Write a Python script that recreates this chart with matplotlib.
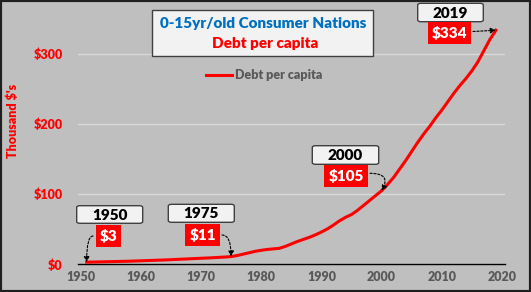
import matplotlib.pyplot as plt
from matplotlib.patches import FancyBboxPatch, Rectangle

plt.rcParams['font.family'] = ['Lato', 'DejaVu Sans']
plt.rcParams['font.weight'] = 'heavy'

# debt per capita, thousand $ (0-15yr/old consumer nations)
years = list(range(1951, 2020))
debt = [3.0, 3.2, 3.4, 3.6, 3.8, 4.0, 4.2, 4.4, 4.7, 5.0,
        5.3, 5.6, 5.9, 6.2, 6.6, 7.0, 7.4, 7.8, 8.2, 8.6,
        9.0, 9.4, 9.9, 10.4, 11.0, 12.5, 14.5, 16.5, 18.5, 20.0,
        21.2, 22.0, 22.8, 25.5, 29.0, 32.5, 35.5, 38.5, 42.0, 46.0,
        50.5, 56.0, 62.0, 67.0, 71.0, 77.0, 84.0, 91.0, 98.0, 105.0,
        114.0, 124.0, 136.0, 148.0, 161.0, 174.0, 186.0, 197.0, 209.0, 220.0,
        232.0, 244.0, 255.0, 265.0, 276.0, 289.0, 305.0, 321.0, 334.0]

xticks = [1950, 1960, 1970, 1980, 1990, 2000, 2010, 2020]
yticks = [0, 100, 200, 300]
ytick_labels = ['$0', '$100', '$200', '$300']

callout_years = [1951, 1975, 2000, 2019]
callout_tags = ['1950', '1975', '2000', '2019']
callout_values = ['$3', '$11', '$105', '$334']

W, H = 531, 292
BG = '#BFBFBF'


def px(x, y):
    return x / W, 1 - y / H


fig = plt.figure(figsize=(W / 100, H / 100), dpi=100, facecolor=BG)
fig.patches.append(Rectangle((0, 0), 1, 1, transform=fig.transFigure,
                             facecolor='none', edgecolor='#202020', lw=3))

ax_l, ax_r, ax_t, ax_b = 77.9, 505, 12, 264.3
ax = fig.add_axes([ax_l / W, 1 - ax_b / H, (ax_r - ax_l) / W, (ax_b - ax_t) / H])
ax.set_facecolor(BG)
ax.set_xlim(1949.55, 2020.5)
ax.set_ylim(0, 360)

for s in ['top', 'right', 'left']:
    ax.spines[s].set_visible(False)
ax.spines['bottom'].set_color('black')
ax.spines['bottom'].set_linewidth(1)
ax.spines['bottom'].set_zorder(3)

ax.set_yticks(yticks)
ax.set_yticklabels(ytick_labels)
ax.set_xticks(xticks)
ax.tick_params(axis='y', length=0, pad=11, labelsize=9, labelcolor='#FF0000')
ax.tick_params(axis='x', length=0, pad=5, labelsize=9, labelcolor='#595959')
ax.grid(axis='y', color='#D9D9D9', lw=1)
ax.set_axisbelow(True)

ax.plot(years, debt, color='#FF0000', lw=2.2, label='Debt per capita', zorder=4)

leg = ax.legend(loc='center', bbox_to_anchor=(0.436, 0.75), frameon=False,
                handlelength=2.1, handletextpad=0.2, fontsize=9)
for t in leg.get_texts():
    t.set_color('#595959')

fig.text(*px(13, 121), "Thousand $'s", color='#FF0000', fontsize=9,
         rotation=90, ha='center', va='center')

# title box
fig.patches.append(FancyBboxPatch(px(152, 56), 221 / W, 46 / H, transform=fig.transFigure,
                                  boxstyle='square,pad=0', facecolor='#F2F2F2',
                                  edgecolor='#404040', lw=1))
fig.text(*px(263, 23), '0-15yr/old Consumer Nations', color='#0070C0', fontsize=11,
         ha='center', va='center')
fig.text(*px(265, 44), 'Debt per capita', color='#FF0000', fontsize=11,
         ha='center', va='center')

# callouts: tag box, value box, arrow start, connection style
tag_boxes = [(76.7, 205.7, 142.7, 223.3), (168.3, 204.3, 234.3, 222.3),
             (312.3, 145.7, 378.7, 164.3), (417.7, 3.3, 483.3, 21.7)]
val_pos = [(108.8, 235.7), (202.5, 235), (346, 175.8), (449.8, 32.8)]
arrow_start = [(93, 236), (222, 235), (370, 173.3), (473, 31.5)]
conn = ['angle3,angleA=180,angleB=90', 'angle3,angleA=0,angleB=90',
        'angle3,angleA=0,angleB=60', 'arc3,rad=0']

for i in range(len(callout_years)):
    x0, y0, x1, y1 = tag_boxes[i]
    fig.patches.append(FancyBboxPatch(px(x0, y1), (x1 - x0) / W, (y1 - y0) / H,
                                      transform=fig.transFigure,
                                      boxstyle='round,pad=0,rounding_size=0.006',
                                      facecolor='#F2F2F2', edgecolor='#404040', lw=1))
    fig.text(*px((x0 + x1) / 2, (y0 + y1) / 2 + 0.5), callout_tags[i], color='black',
             fontsize=11, ha='center', va='center')
    fig.text(*px(*val_pos[i]), callout_values[i], color='white', fontsize=11,
             ha='center', va='center',
             bbox=dict(boxstyle='square,pad=0.25', facecolor='#FF0000', edgecolor='none'))
    yr = callout_years[i]
    ax.annotate('', xy=(yr, debt[years.index(yr)]), xycoords='data',
                xytext=px(*arrow_start[i]), textcoords='figure fraction',
                arrowprops=dict(arrowstyle='-|>', color='black', lw=0.8,
                                linestyle=(0, (2, 1.5)), mutation_scale=8,
                                shrinkA=0, shrinkB=0, connectionstyle=conn[i]),
                zorder=5)

fig.savefig('out.png', dpi=100, facecolor=BG)
